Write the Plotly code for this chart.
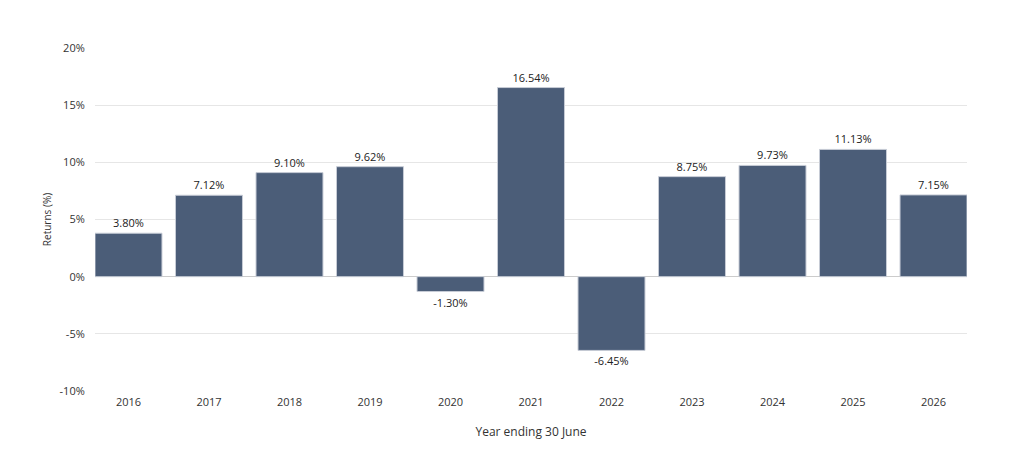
import plotly.graph_objects as go

years = ["2016", "2017", "2018", "2019", "2020", "2021", "2022", "2023", "2024", "2025", "2026"]
returns = [3.80, 7.12, 9.10, 9.62, -1.30, 16.54, -6.45, 8.75, 9.73, 11.13, 7.15]
y_ticks = [-10, -5, 0, 5, 10, 15, 20]
y_tick_labels = ["-10%", "-5%", "0%", "5%", "10%", "15%", "20%"]

bar_gap = 0.168
n = len(years)

fig = go.Figure()
fig.add_trace(go.Bar(
    x=years,
    y=returns,
    marker=dict(color="#4b5d78", line=dict(color="#c7ccd6", width=1)),
    text=[f"{v:.2f}%" for v in returns],
    textposition="outside",
    textfont=dict(size=11, color="#222222", family="Open Sans"),
    cliponaxis=False,
    hoverinfo="skip",
))

fig.update_layout(
    width=1005,
    height=442,
    margin=dict(l=87, r=46, t=40, b=59),
    paper_bgcolor="white",
    plot_bgcolor="white",
    bargap=bar_gap,
    showlegend=False,
    font=dict(family="Open Sans", color="#333333"),
    xaxis=dict(
        title=dict(text="Year ending 30 June", font=dict(size=12, color="#333333"), standoff=19),
        tickfont=dict(size=11, color="#333333"),
        range=[-0.5 + bar_gap / 2, n - 0.5 - bar_gap / 2],
        showgrid=False,
        showline=False,
        ticks="outside",
        ticklen=1,
        tickcolor="rgba(0,0,0,0)",
        automargin=False,
    ),
    yaxis=dict(
        title=dict(text="Returns (%)", font=dict(size=10, color="#333333"), standoff=6),
        range=[-10, 20],
        tickvals=y_ticks,
        ticktext=y_tick_labels,
        tickfont=dict(size=11, color="#333333"),
        showgrid=True,
        gridcolor="#e6e6e6",
        gridwidth=1,
        zeroline=True,
        zerolinecolor="#cccccc",
        zerolinewidth=1,
        ticks="outside",
        ticklen=7,
        tickcolor="rgba(0,0,0,0)",
        automargin=False,
    ),
)

fig.write_html("out.html")
